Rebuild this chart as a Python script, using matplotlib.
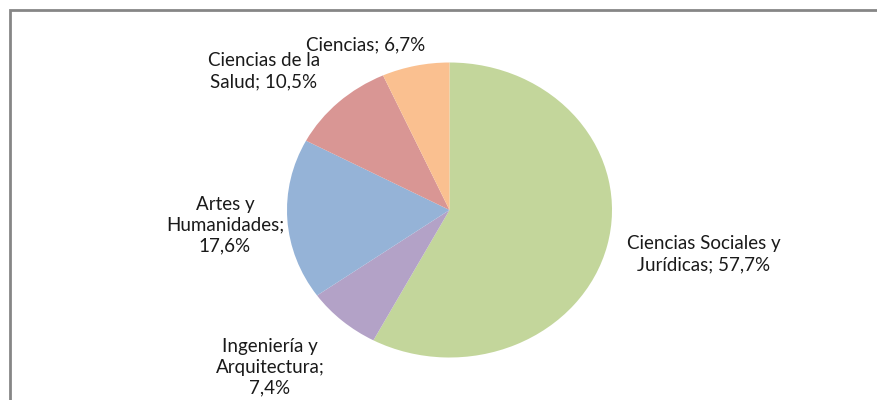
import matplotlib
matplotlib.use("Agg")
import matplotlib.pyplot as plt
from matplotlib.patches import Rectangle

categories = ["Ciencias Sociales y\nJurídicas", "Ingeniería y\nArquitectura;", "Artes y\nHumanidades;",
              "Ciencias de la\nSalud", "Ciencias"]
values = [57.7, 7.4, 17.6, 10.5, 6.7]
label_texts = ["Ciencias Sociales y\nJurídicas; 57,7%", "Ingeniería y\nArquitectura;\n7,4%",
               "Artes y\nHumanidades;\n17,6%", "Ciencias de la\nSalud; 10,5%", "Ciencias; 6,7%"]
colors = ["#C3D69B", "#B3A2C7", "#95B3D7", "#D99694", "#FAC090"]

W, H = 877, 400
fig = plt.figure(figsize=(W / 100, H / 100), dpi=100)
fig.patch.set_facecolor("white")

cx, cy, rx, ry = 449.5, 210, 162.5, 147.5
ax = fig.add_axes([(cx - rx) / W, (H - cy - ry) / H, 2 * rx / W, 2 * ry / H])
ax.pie(values, colors=colors, startangle=90, counterclock=False, radius=1,
       wedgeprops=dict(linewidth=0))
ax.set_aspect("auto")
ax.set_xlim(-1, 1)
ax.set_ylim(-1, 1)
ax.axis("off")

# label positions in pixel coords (centers)
label_px = [(704, 254), (270, 367), (225, 225), (264, 71), (366, 45)]
for txt, (px, py) in zip(label_texts, label_px):
    dx = (px - cx) / rx
    dy = (cy - py) / ry
    ax.text(dx, dy, txt, ha="center", va="center", fontsize=13.5, family="Lato",
            color="#1a1a1a", linespacing=1.27, clip_on=False)

fig.patches.append(Rectangle((10 / W, -0.1), 1.2, (H - 10) / H + 0.1, transform=fig.transFigure,
                             fill=False, edgecolor="#868686", linewidth=2))

fig.savefig("out.png", dpi=100)
